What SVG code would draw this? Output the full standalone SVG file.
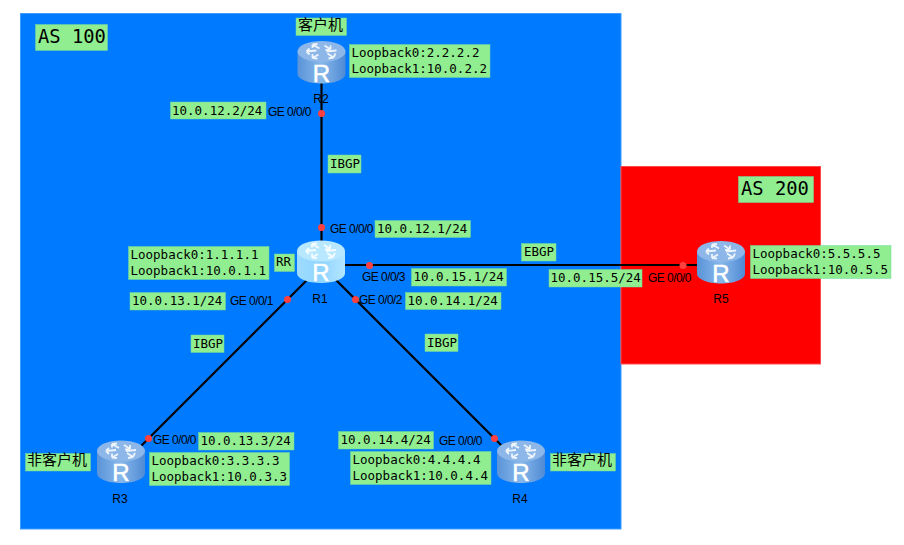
<svg xmlns="http://www.w3.org/2000/svg" width="904" height="545" viewBox="0 0 904 545">
<style>
.bg{fill:#fff}
.lb{fill:#90ee90;stroke:#6fd9a0;stroke-width:.5}
.m{font-family:"DejaVu Sans Mono","Liberation Mono",monospace;font-size:12.5px;fill:#000}
.as{font-family:"DejaVu Sans Mono","Liberation Mono",monospace;font-size:18.8px;fill:#000}
.s{font-family:"Liberation Sans",Arial,sans-serif;font-size:12px;fill:#000;letter-spacing:-.55px}
.n{font-family:"Liberation Sans",Arial,sans-serif;font-size:12px;fill:#000;text-anchor:middle}
.c{font-family:"Noto Sans CJK SC","Noto Sans CJK JP",sans-serif;font-size:15px;fill:#000}
.r{font-family:"Liberation Sans",Arial,sans-serif;font-size:24px;fill:#fff;stroke:#fff;stroke-width:.5;text-anchor:middle}
.link{stroke:#000;stroke-width:2.2;fill:none}
.dot{fill:#ff4040}
.ar{fill:none;stroke:#fff;stroke-width:1.8;opacity:.85}
</style>
<defs>
<linearGradient id="g1" x1="0" x2="1" y1="0" y2="0"><stop offset="0" stop-color="#9fdcff"/><stop offset=".5" stop-color="#8fd4ff"/><stop offset="1" stop-color="#b4e6ff"/></linearGradient>
<linearGradient id="g2" x1="0" x2="1" y1="0" y2="0"><stop offset="0" stop-color="#5a93d8"/><stop offset=".5" stop-color="#87b8ea"/><stop offset="1" stop-color="#4f8ad4"/></linearGradient>
<g id="icon-arrows">
<path class="ar" d="M-2-14 -9-18M-9-18 -9-14.500M-9-18 -4-18.500"/>
<path class="ar" d="M3-17 9-13M9-13 9-17M9-13 4-12.500"/>
<path class="ar" d="M6-9 12-5M12-5 14-9M12-5 7-4"/>
<path class="ar" d="M-3-8 -9-4.500M-9-4.500 -9-8.500M-9-4.500 -4-4"/>
<path class="ar" d="M-5-12 -15-11M-15-11 -12-14M-15-11 -12-8"/>
<path class="ar" d="M5-11 15-12"/>
</g>
<g id="rt-light">
<path d="M-24-11V11C-24 17 -13 21 0 21S24 17 24 11V-11Z" fill="url(#g1)"/>
<ellipse cx="0" cy="-11" rx="24" ry="10.500" fill="#b8e8ff"/>
<use href="#icon-arrows"/>
<text class="r" x="0" y="19">R</text>
</g>
<g id="rt-dark">
<path d="M-24-11V11C-24 17 -13 21 0 21S24 17 24 11V-11Z" fill="url(#g2)"/>
<ellipse cx="0" cy="-11" rx="24" ry="10.500" fill="#8db7e8"/>
<use href="#icon-arrows"/>
<text class="r" x="0" y="19">R</text>
</g>
</defs>
<rect class="bg" width="904" height="545"/>
<g id="area-as100"><rect x="20.500" y="13.500" width="600.500" height="515.500" fill="#007aff" stroke="#3f9bff"/></g>
<g id="area-as200"><rect x="621" y="166.500" width="199.500" height="197.500" fill="#ff0000" stroke="#ff4a4a"/></g>

<g id="connectors">
<path class="link" d="M321.500 62V262"/>
<path class="link" d="M321 265H721"/>
<path class="link" d="M321 266L121 466"/>
<path class="link" d="M321 265L521 465"/>
<circle class="dot" cx="321.500" cy="113.500" r="3.500"/>
<circle class="dot" cx="321.500" cy="227.500" r="3.500"/>
<circle class="dot" cx="369.500" cy="265.500" r="3.500"/>
<circle class="dot" cx="287.500" cy="299.500" r="3.500"/>
<circle class="dot" cx="355.500" cy="299.500" r="3.500"/>
<circle class="dot" cx="683" cy="265.500" r="3.500"/>
<circle class="dot" cx="148.500" cy="438.500" r="3.500"/>
<circle class="dot" cx="494.500" cy="438.500" r="3.500"/>
</g>

<g id="R2"><use href="#rt-dark" x="321.500" y="62.500"/><text class="n" x="321" y="103">R2</text></g>
<g id="R1"><use href="#rt-light" x="321" y="262"/><text class="n" x="320" y="303">R1</text></g>
<g id="R5"><use href="#rt-dark" x="721" y="262.500"/><text class="n" x="721" y="303">R5</text></g>
<g id="R3"><use href="#rt-dark" x="121" y="462"/><text class="n" x="120" y="503">R3</text></g>
<g id="R4"><use href="#rt-dark" x="521" y="462"/><text class="n" x="520" y="503">R4</text></g>

<g id="labels">
<rect class="lb" x="35.500" y="24.500" width="72" height="26"/><text class="as" x="38" y="42.500">AS 100</text>
<rect class="lb" x="738.500" y="176.500" width="75" height="26"/><text class="as" x="741" y="194.500">AS 200</text>

<rect class="lb" x="296" y="18" width="50.500" height="17.500"/><text class="c" x="298" y="30">客户机</text>
<rect class="lb" x="349.500" y="44.500" width="140.500" height="33"/><text class="m" x="351.500" y="56.500">Loopback0:2.2.2.2</text><text class="m" x="351.500" y="72.500">Loopback1:10.0.2.2</text>
<rect class="lb" x="170.500" y="102" width="95.500" height="17"/><text class="m" x="172" y="114.500">10.0.12.2/24</text>
<text class="s" x="268" y="116">GE 0/0/0</text>
<rect class="lb" x="328" y="155" width="33" height="18"/><text class="m" x="330" y="168">IBGP</text>

<text class="s" x="330" y="233">GE 0/0/0</text>
<rect class="lb" x="375" y="220.500" width="95.500" height="17"/><text class="m" x="377" y="232.500">10.0.12.1/24</text>
<rect class="lb" x="128.500" y="246.500" width="140.500" height="33"/><text class="m" x="130.500" y="258.500">Loopback0:1.1.1.1</text><text class="m" x="130.500" y="274.500">Loopback1:10.0.1.1</text>
<rect class="lb" x="274.500" y="254" width="20" height="17.500"/><text class="m" x="276" y="266">RR</text>
<rect class="lb" x="130" y="292.500" width="95.500" height="17.500"/><text class="m" x="132" y="304.500">10.0.13.1/24</text>
<text class="s" x="230" y="305">GE 0/0/1</text>
<text class="s" x="359" y="304">GE 0/0/2</text>
<rect class="lb" x="405.500" y="292.500" width="95.500" height="17"/><text class="m" x="407.500" y="304.500">10.0.14.1/24</text>
<text class="s" x="362" y="281">GE 0/0/3</text>
<rect class="lb" x="411.500" y="268.500" width="95" height="17.500"/><text class="m" x="413.500" y="280.500">10.0.15.1/24</text>
<rect class="lb" x="521.500" y="243.500" width="34.500" height="17.500"/><text class="m" x="524" y="256">EBGP</text>
<rect class="lb" x="549" y="269.500" width="93" height="17.500"/><text class="m" x="550.500" y="281.500">10.0.15.5/24</text>
<text class="s" x="648" y="282">GE 0/0/0</text>
<rect class="lb" x="750.500" y="245.500" width="140.500" height="33"/><text class="m" x="752.500" y="257.500">Loopback0:5.5.5.5</text><text class="m" x="752.500" y="273.500">Loopback1:10.0.5.5</text>

<rect class="lb" x="191" y="335" width="33" height="17.500"/><text class="m" x="193" y="347.500">IBGP</text>
<rect class="lb" x="425" y="334" width="33" height="17.500"/><text class="m" x="427" y="346.500">IBGP</text>

<text class="s" x="153" y="444">GE 0/0/0</text>
<rect class="lb" x="198.500" y="432.500" width="95.500" height="17.500"/><text class="m" x="200.500" y="444.500">10.0.13.3/24</text>
<rect class="lb" x="149.500" y="452.500" width="140" height="33"/><text class="m" x="151.500" y="464.500">Loopback0:3.3.3.3</text><text class="m" x="151.500" y="480.500">Loopback1:10.0.3.3</text>
<rect class="lb" x="25.500" y="453.500" width="65" height="17.500"/><text class="c" x="27" y="465">非客户机</text>

<rect class="lb" x="338.500" y="431.500" width="95" height="17.500"/><text class="m" x="340.500" y="443.500">10.0.14.4/24</text>
<text class="s" x="439" y="445">GE 0/0/0</text>
<rect class="lb" x="350.500" y="451.500" width="140.500" height="33"/><text class="m" x="352.500" y="463.500">Loopback0:4.4.4.4</text><text class="m" x="352.500" y="479.500">Loopback1:10.0.4.4</text>
<rect class="lb" x="550.500" y="453.500" width="65" height="17.500"/><text class="c" x="552" y="465">非客户机</text>
</g>
</svg>
